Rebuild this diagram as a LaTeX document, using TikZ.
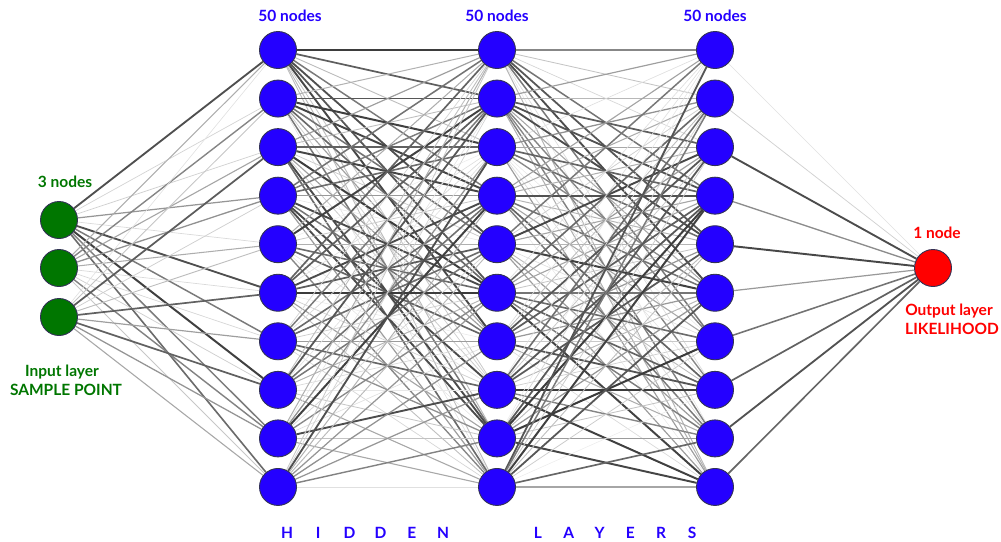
\documentclass[tikz,border=0pt]{standalone}
\usepackage{fontspec}
\setmainfont{Lato}
\usetikzlibrary{backgrounds}
\definecolor{nblue}{RGB}{36,0,255}
\definecolor{ngreen}{RGB}{0,118,0}
\definecolor{nred}{RGB}{255,0,0}
\definecolor{nborder}{RGB}{50,50,85}
\begin{document}
\begin{tikzpicture}[x=1pt,y=-1pt,
  neuron/.style={circle,minimum size=37pt,inner sep=0pt,draw=nborder,line width=0.9pt},
  hiddenN/.style={neuron,fill=nblue},
  inputN/.style={neuron,fill=ngreen},
  outputN/.style={neuron,fill=nred},
  lbl/.style={font=\bfseries\fontsize{15.5}{17}\selectfont,inner sep=0pt},
  letter/.style={font=\bfseries\fontsize{15.5}{17}\selectfont,inner sep=0pt,text=nblue},
]
\useasboundingbox (0,0) rectangle (1001,541);
% input nodes
\foreach \i/\y in {1/220,2/268,3/317}
  \node[inputN] (in\i) at (59,\y) {};
% hidden layers
\foreach \L/\x in {1/278,2/497,3/715}
  \foreach \j in {1,...,10}
    \node[hiddenN] (h\L-\j) at (\x,{50+48.55*(\j-1)}) {};
% output
\node[outputN] (out) at (933,268) {};
% connectors
\begin{scope}[on background layer]
\pgfmathsetseed{7}
\foreach \i in {1,2,3}
  \foreach \j in {1,...,10}{
    \pgfmathsetmacro\v{int(8+70*rnd)}
    \pgfmathsetmacro\w{0.35+1.7*\v/78}
    \draw[line width=\w pt,draw=black!\v] (in\i) -- (h1-\j);
  }
\foreach \L/\M in {1/2,2/3}
  \foreach \i in {1,...,10}
    \foreach \j in {1,...,10}{
      \pgfmathsetmacro\v{int(8+70*rnd)}
      \pgfmathsetmacro\w{0.35+1.7*\v/78}
      \draw[line width=\w pt,draw=black!\v] (h\L-\i) -- (h\M-\j);
    }
\foreach \i/\v in {1/12,2/18,3/70,4/45,5/72,6/40,7/55,8/62,9/68,10/60}{
  \pgfmathsetmacro\w{0.35+1.7*\v/78}
  \draw[line width=\w pt,draw=black!\v] (h3-\i) -- (out);
}
\end{scope}
% labels
\node[lbl,text=ngreen] (t3) at (65,182) {3 nodes};
\node[lbl,text=ngreen] (tin1) at (62,372) {Input layer};
\node[lbl,text=ngreen] (tin2) at (66,390) {SAMPLE POINT};
\node[lbl,text=nblue] (t50a) at (290,16) {50 nodes};
\node[lbl,text=nblue] (t50b) at (497,16) {50 nodes};
\node[lbl,text=nblue] (t50c) at (715,16) {50 nodes};
\node[lbl,text=nred] (t1) at (937,233) {1 node};
\node[lbl,text=nred] (tout1) at (949,311) {Output layer};
\node[lbl,text=nred] (tout2) at (952,329) {LIKELIHOOD};
\foreach \c [count=\k] in {H,I,D,D,E,N}
  \node[letter] (hw\k) at ({287+31.2*(\k-1)},533) {\c};
\foreach \c [count=\k] in {L,A,Y,E,R,S}
  \node[letter] (lw\k) at ({538+30.8*(\k-1)},533) {\c};
\end{tikzpicture}
\end{document}
